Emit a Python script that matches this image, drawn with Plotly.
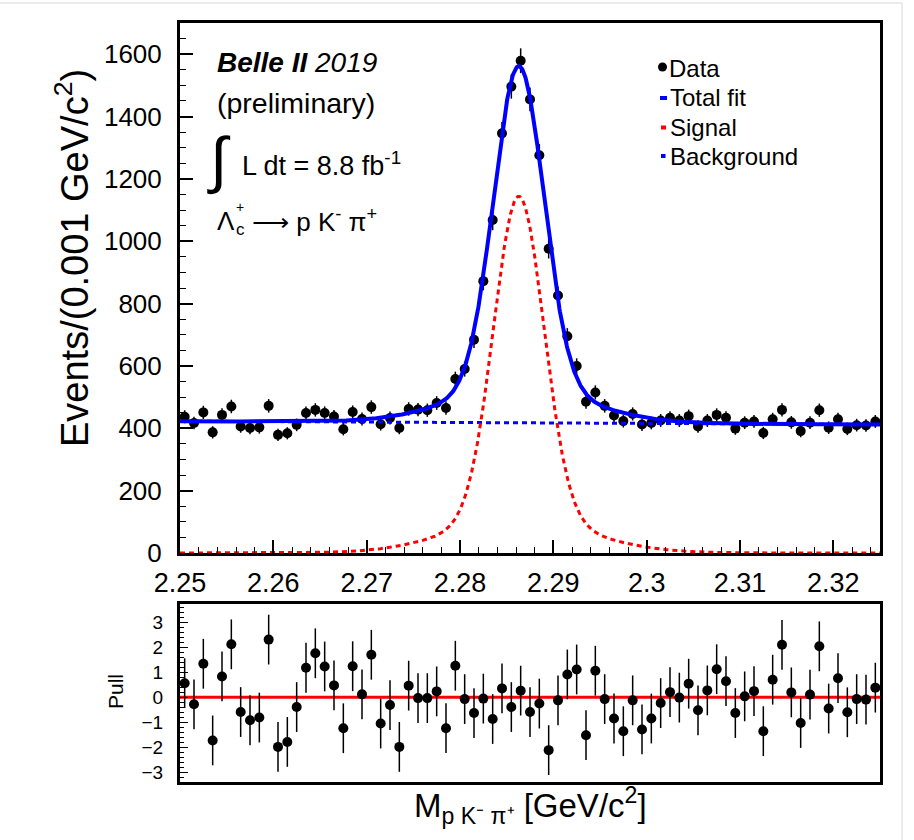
import numpy as np
import plotly.graph_objects as go

# ---- binning (1 MeV bins over the fit window) ----
MASS_LO, MASS_HI, BIN_W = 2.25, 2.325, 0.001
bin_centers = np.round(np.arange(MASS_LO + BIN_W / 2, MASS_HI, BIN_W), 4)

# ---- candidates per bin ----
events = [
    437, 417, 451, 387, 443, 470, 406, 401, 403, 472,
    379, 384, 411, 449, 459, 449, 438, 397, 452, 430,
    468, 413, 433, 401, 462, 460, 458, 481, 465, 558,
    590, 684, 872, 1068, 1346, 1496, 1579, 1455, 1276, 976,
    826, 695, 600, 485, 515, 472, 441, 423, 446, 412,
    417, 425, 434, 425, 439, 406, 425, 443, 434, 399,
    418, 422, 385, 429, 459, 419, 391, 418, 458, 402,
    429, 398, 410, 409, 422,
]

# ---- pull per bin ----
pulls = [
    0.57, -0.28, 1.35, -1.73, 0.84, 2.13, -0.59, -0.92, -0.81, 2.32,
    -1.99, -1.79, -0.39, 1.19, 1.77, 1.24, 0.48, -1.24, 1.25, 0.12,
    1.71, -1.05, -0.31, -1.99, 0.47, -0.03, -0.03, 0.24, -1.24, 1.27,
    -0.07, -0.63, -0.05, -0.87, 0.36, -0.39, 0.27, -0.59, -0.25, -2.12,
    -0.12, 0.92, 1.12, -1.52, 1.07, -0.07, -0.85, -1.36, -0.12, -1.29,
    -0.85, -0.23, 0.21, -0.01, 0.55, -0.52, 0.28, 1.13, 0.65, -0.63,
    0.04, 0.25, -1.36, 0.71, 2.11, 0.2, -1.03, 0.11, 2.05, -0.45,
    0.77, -0.6, -0.07, -0.09, 0.39,
]

# ---- fit model: double Gaussian signal + linear background ----
fit_mean = 2.2863
core_amp, core_sigma = 1038.0, 0.00268
tail_amp, tail_sigma = 106.0, 0.00735
bkg_c0, bkg_slope, bkg_pivot = 417.5, -145.0, 2.2875

x_ticks = [2.25, 2.26, 2.27, 2.28, 2.29, 2.30, 2.31, 2.32]
x_tick_labels = ["2.25", "2.26", "2.27", "2.28", "2.29", "2.3", "2.31", "2.32"]

m_curve = np.linspace(MASS_LO, MASS_HI, 1501)
sig_curve = (core_amp * np.exp(-0.5 * ((m_curve - fit_mean) / core_sigma) ** 2)
             + tail_amp * np.exp(-0.5 * ((m_curve - fit_mean) / tail_sigma) ** 2))
bkg_curve = bkg_c0 + bkg_slope * (m_curve - bkg_pivot)
tot_curve = sig_curve + bkg_curve

BLUE, RED = "#0000ff", "#ff0000"
FONT = "Liberation Sans, Arial, Helvetica, sans-serif"

# ---- page geometry ----
W, H = 914, 840
ML, MR, MT, MB = 180, 34, 23, 58
PW, PH = W - ML - MR, H - MT - MB
pull_top, main_bottom = 604, 553


def px(x):
    return (x - ML) / PW


def py(y):
    return (H - MB - y) / PH


fig = go.Figure()

# main panel
fig.add_trace(go.Scatter(
    x=bin_centers, y=events, mode="markers",
    marker=dict(color="black", size=10),
    error_y=dict(type="data", array=np.sqrt(events), width=0, thickness=1.5, color="black"),
    xaxis="x", yaxis="y", showlegend=False))
fig.add_trace(go.Scatter(x=m_curve, y=bkg_curve, mode="lines",
                         line=dict(color=BLUE, width=3, dash="5px,4px"),
                         xaxis="x", yaxis="y", showlegend=False))
fig.add_trace(go.Scatter(x=m_curve, y=sig_curve, mode="lines",
                         line=dict(color=RED, width=3, dash="5px,4px"),
                         xaxis="x", yaxis="y", showlegend=False))
fig.add_trace(go.Scatter(x=m_curve, y=tot_curve, mode="lines",
                         line=dict(color=BLUE, width=4),
                         xaxis="x", yaxis="y", showlegend=False))

# pull panel
fig.add_trace(go.Scatter(
    x=bin_centers, y=pulls, mode="markers",
    marker=dict(color="black", size=10),
    error_y=dict(type="constant", value=1.0, width=0, thickness=1.5, color="black"),
    xaxis="x2", yaxis="y2", showlegend=False))

frame = dict(showline=True, linecolor="black", linewidth=3, mirror=True,
             showgrid=False, zeroline=False)

fig.update_layout(
    width=W, height=H,
    margin=dict(l=ML, r=MR, t=MT, b=MB),
    paper_bgcolor="white", plot_bgcolor="white",
    font=dict(family=FONT, color="black"),
    xaxis=dict(domain=[0, 1], range=[MASS_LO, MASS_HI], anchor="y",
               tickvals=x_ticks, ticktext=x_tick_labels,
               ticks="inside", ticklen=13, tickwidth=1.5, tickcolor="black",
               minor=dict(dtick=0.002, tick0=2.25, ticks="inside", ticklen=6,
                          tickwidth=1.2, tickcolor="black"),
               tickfont=dict(size=27), ticklabelstandoff=4, **frame),
    yaxis=dict(domain=[py(main_bottom), 1], range=[0, 1700], anchor="x",
               dtick=200, tick0=0,
               ticks="inside", ticklen=13, tickwidth=1.5, tickcolor="black",
               minor=dict(dtick=50, ticks="inside", ticklen=6,
                          tickwidth=1.2, tickcolor="black"),
               tickfont=dict(size=26), ticklabelstandoff=10, **frame),
    xaxis2=dict(domain=[0, 1], range=[MASS_LO, MASS_HI], anchor="y2",
                showticklabels=False, ticks="", **frame),
    yaxis2=dict(domain=[0, py(pull_top)], range=[-3.4, 3.75], anchor="x2",
                dtick=1, tick0=0,
                ticks="inside", ticklen=8, tickwidth=1.2, tickcolor="black",
                minor=dict(dtick=0.2, ticks="inside", ticklen=4,
                           tickwidth=1, tickcolor="black"),
                tickfont=dict(size=19), ticklabelstandoff=10, **frame),
)

shapes = [
    # zero line of the pull panel
    dict(type="line", xref="x2 domain", yref="y2", x0=0, x1=1, y0=0, y1=0,
         line=dict(color=RED, width=3), layer="below"),
    # thin outer border of the canvas
    dict(type="line", xref="paper", yref="paper", x0=px(-5), x1=px(902), y0=py(3), y1=py(3),
         line=dict(color="#d8d8d8", width=1)),
    dict(type="line", xref="paper", yref="paper", x0=px(902), x1=px(902), y0=py(3), y1=py(845),
         line=dict(color="#d8d8d8", width=1)),
    # legend marks
    dict(type="circle", xref="paper", yref="paper", x0=px(658), x1=px(667), y0=py(62.5), y1=py(71.5),
         fillcolor="black", line=dict(width=0)),
    dict(type="rect", xref="paper", yref="paper", x0=px(660), x1=px(667), y0=py(96), y1=py(100),
         fillcolor=BLUE, line=dict(width=0)),
    dict(type="rect", xref="paper", yref="paper", x0=px(661), x1=px(666), y0=py(125.5), y1=py(129.5),
         fillcolor=RED, line=dict(width=0)),
    dict(type="rect", xref="paper", yref="paper", x0=px(661), x1=px(665.5), y0=py(154), y1=py(158),
         fillcolor=BLUE, line=dict(width=0)),
]
fig.update_layout(shapes=shapes)


def label(text, x, y, size, xanchor="left", angle=0, yanchor="middle"):
    fig.add_annotation(text=text, x=px(x), y=py(y), xref="paper", yref="paper",
                       xanchor=xanchor, yanchor=yanchor, showarrow=False, textangle=angle,
                       font=dict(size=size, family=FONT, color="black"))


# legend text
label("Data", 667, 68, 24)
label("Total fit", 668, 97.5, 24)
label("Signal", 668, 127.5, 24)
label("Background", 668, 156.5, 24)

# experiment label block
label("<b><i>Belle II</i></b> <i>2019</i>", 215, 62, 28)
label("(preliminary)", 215, 103, 28.5)
label("∫", 205, 160, 62)
label("L dt = 8.8 fb<sup>-1</sup>", 240, 164, 27)
label("Λ", 215, 221, 26)
label("+", 234, 207, 14)
label("c", 234, 229, 17)
label("⟶ p K<sup>-</sup> π<sup>+</sup>", 250, 220, 26)

# axis titles
label("Events/(0.001 GeV/c<sup>2</sup>)", 72, 258, 38, xanchor="center", angle=-90)
label("Pull", 115, 692, 21, xanchor="center", angle=-90)
label("M<sub>p K⁻ π⁺</sub> [GeV/c<sup>2</sup>]", 530, 805, 33, xanchor="center")

fig.write_html("out.html")
